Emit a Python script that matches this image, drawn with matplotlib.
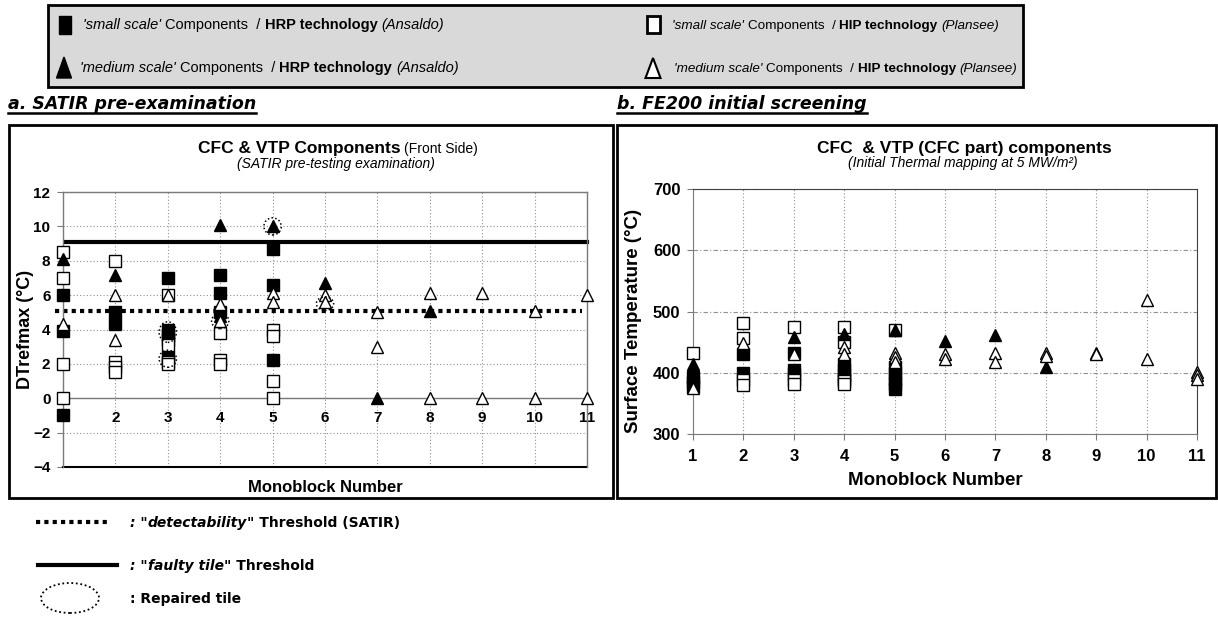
import matplotlib
matplotlib.use('Agg')
import matplotlib.pyplot as plt
from matplotlib.patches import Rectangle, Ellipse, Polygon
from matplotlib.lines import Line2D

plt.rcParams['font.family'] = ['Liberation Sans', 'DejaVu Sans']

# ---- a. SATIR pre-examination : DTrefmax (°C) per monoblock ----
a_sq_hrp_x = [1, 1, 1, 2, 2, 3, 3, 3, 3, 3, 4, 4, 4, 5, 5, 5]
a_sq_hrp_y = [6.0, 3.9, -1.0, 5.0, 4.3, 7.0, 4.0, 3.7, 3.4, 2.4, 7.2, 6.1, 5.0, 8.7, 6.6, 2.2]
a_sq_hip_x = [1, 1, 1, 1, 2, 2, 2, 2, 3, 3, 3, 3, 4, 4, 4, 5, 5, 5, 5]
a_sq_hip_y = [8.5, 7.0, 2.0, 0.0, 8.0, 2.1, 1.8, 1.5, 6.0, 3.1, 2.1, 2.0, 3.8, 2.2, 2.0, 4.0, 3.6, 1.0, 0.0]
a_tri_hrp_x = [1, 2, 4, 4, 5, 6, 7, 8]
a_tri_hrp_y = [8.1, 7.2, 10.1, 4.8, 10.0, 6.7, 0.0, 5.1]
a_tri_hip_x = [1, 2, 2, 3, 4, 4, 5, 5, 6, 6, 7, 7, 8, 8, 9, 9, 10, 10, 11, 11]
a_tri_hip_y = [4.3, 6.0, 3.4, 6.0, 5.5, 4.5, 6.1, 5.6, 6.0, 5.6, 5.0, 3.0, 6.1, 0.0, 6.1, 0.0, 5.1, 0.0, 6.0, 0.0]
# repaired tiles (dotted ellipses)
rep_x = [3, 3, 4, 5, 6]
rep_y = [3.85, 2.3, 4.5, 10.0, 5.5]
rep_h = [1.2, 1.0, 0.9, 1.0, 0.8]
detect_thr = 5.1
faulty_thr = 9.1

# ---- b. FE200 initial screening : surface temperature (°C) ----
b_sq_hrp_x = [1, 1, 1, 2, 2, 3, 3, 3, 4, 4, 4, 4, 5, 5, 5, 5, 5]
b_sq_hrp_y = [393, 385, 377, 430, 400, 432, 405, 398, 415, 405, 397, 390, 410, 400, 390, 382, 374]
b_sq_hip_x = [1, 2, 2, 2, 2, 3, 3, 3, 4, 4, 4, 4, 5]
b_sq_hip_y = [432, 481, 456, 388, 380, 474, 388, 382, 474, 450, 386, 381, 470]
b_tri_hrp_x = [1, 2, 3, 4, 5, 6, 7, 8]
b_tri_hrp_y = [415, 436, 458, 463, 470, 452, 461, 409]
b_tri_hip_x = [1, 2, 3, 4, 4, 5, 5, 5, 6, 6, 7, 7, 8, 8, 9, 9, 10, 10, 11, 11, 11]
b_tri_hip_y = [375, 448, 430, 442, 431, 432, 425, 418, 430, 423, 433, 417, 433, 428, 433, 430, 518, 423, 402, 396, 390]

monoblocks = list(range(1, 12))

W, H = 1218, 630
fig = plt.figure(figsize=(W / 100, H / 100), dpi=100)
rend = fig.canvas.get_renderer()


def fx(px):
    return px / W


def fy(py):
    return 1 - py / H


def text_w(s, **kw):
    t = fig.text(0, 0, '|' + s + '|', **kw)
    t2 = fig.text(0, 0, '||', **kw)
    w = t.get_window_extent(rend).width - t2.get_window_extent(rend).width
    t.remove()
    t2.remove()
    return w


def rich(x, y, parts, ha='left'):
    # parts: list of (string, text kwargs); y is the baseline in pixels
    widths = [text_w(s, **kw) for s, kw in parts]
    if ha == 'center':
        x -= sum(widths) / 2
    x0 = x
    for (s, kw), w in zip(parts, widths):
        lead = len(s) - len(s.lstrip())
        off = text_w(' ' * lead, **kw) if lead else 0
        if s.strip():
            fig.text(fx(x + off), fy(y), s.strip(), va='baseline', ha='left', **kw)
        x += w
    return x0, x


def fig_line(xs, ys, **kw):
    fig.add_artist(Line2D([fx(v) for v in xs], [fy(v) for v in ys], transform=fig.transFigure, **kw))


def fig_rect(x0, y0, x1, y1, **kw):
    fig.add_artist(Rectangle((fx(x0), fy(y1)), (x1 - x0) / W, (y1 - y0) / H,
                             transform=fig.transFigure, **kw))


def fig_tri(cx, top, bot, half, **kw):
    pts = [(fx(cx), fy(top)), (fx(cx - half), fy(bot)), (fx(cx + half), fy(bot))]
    fig.add_artist(Polygon(pts, closed=True, transform=fig.transFigure, **kw))


# ---- top legend box ----
fig_rect(48, 5, 1023, 87, facecolor='#d9d9d9', edgecolor='black', lw=2, zorder=0)
fig_rect(59, 16, 71, 34, facecolor='black', edgecolor='black', lw=1)
fig_tri(64, 57, 78, 7.5, facecolor='black', edgecolor='black', lw=1)
fig_rect(647, 16, 660, 33, facecolor='white', edgecolor='black', lw=2)
fig_tri(653, 58, 78, 7.5, facecolor='white', edgecolor='black', lw=1.5)

it = dict(fontsize=10.5, style='italic')
nm = dict(fontsize=10.5)
bd = dict(fontsize=10.5, weight='bold')
rich(83, 29, [("'small scale'", it), (" Components  / ", nm), ("HRP technology", bd), (" (Ansaldo)", it)])
rich(80, 72, [("'medium scale'", it), (" Components  / ", nm), ("HRP technology", bd), (" (Ansaldo)", it)])
it2 = dict(fontsize=9.7, style='italic')
nm2 = dict(fontsize=9.7)
bd2 = dict(fontsize=9.7, weight='bold')
rich(672, 29, [("'small scale'", it2), (" Components  / ", nm2), ("HIP technology", bd2), (" (Plansee)", it2)])
rich(674, 72, [("'medium scale'", it2), (" Components  / ", nm2), ("HIP technology", bd2), (" (Plansee)", it2)])

# ---- panel titles (underlined) ----
pt = dict(fontsize=12.5, weight='bold', style='italic', family='DejaVu Sans')
for x0, label in [(8, 'a. SATIR pre-examination'), (617, 'b. FE200 initial screening')]:
    a, b = rich(x0, 109, [(label, pt)])
    fig_line([a, b], [113, 113], color='black', lw=1.8)

# ---- panel frames ----
fig_rect(9, 125, 613, 498, facecolor='none', edgecolor='black', lw=2)
fig_rect(617, 125, 1216, 498, facecolor='none', edgecolor='black', lw=2)

# ---- chart titles ----
rich(338, 153, [("CFC & VTP Components", dict(fontsize=12.5, weight='bold')),
                (" (Front Side)", dict(fontsize=10))], ha='center')
rich(336, 168, [("(SATIR pre-testing examination)", dict(fontsize=10, style='italic'))], ha='center')
rich(964, 153, [("CFC  & VTP (CFC part) components", dict(fontsize=12.5, weight='bold'))], ha='center')
rich(963, 167, [("(Initial Thermal mapping at 5 MW/m²)", dict(fontsize=10, style='italic'))], ha='center')

MS = 8


def draw_series(ax, sqf, sqo, trf, tro):
    ax.plot(*sqf, ls='none', marker='s', ms=MS, mfc='black', mec='black', mew=1, clip_on=False, zorder=3)
    ax.plot(*sqo, ls='none', marker='s', ms=MS, mfc='white', mec='black', mew=1, clip_on=False, zorder=3)
    ax.plot(*trf, ls='none', marker='^', ms=MS + 1, mfc='black', mec='black', mew=1, clip_on=False, zorder=3)
    ax.plot(*tro, ls='none', marker='^', ms=MS + 1, mfc='white', mec='black', mew=1, clip_on=False, zorder=3)


# ---- left chart ----
ax1 = fig.add_axes([fx(63), fy(467), 524 / W, 275 / H])
ax1.set_xlim(1, 11)
ax1.set_ylim(-4, 12)
ax1.set_axisbelow(True)
ax1.grid(True, ls=(0, (1, 2)), color='#909090', lw=0.8)
ax1.set_xticks(monoblocks)
ax1.set_yticks(range(-4, 13, 2))
ax1.spines['bottom'].set_position(('data', 0))
for s in ['bottom', 'left', 'top', 'right']:
    ax1.spines[s].set_color('#7a7a7a')
    ax1.spines[s].set_linewidth(1)
ax1.axhline(-4, color='black', lw=1.5, zorder=2, clip_on=False)
ax1.tick_params(axis='x', length=0, pad=9, labelsize=11)
ax1.tick_params(axis='y', length=4, color='#7a7a7a', pad=5, labelsize=11)
for lab in ax1.get_xticklabels() + ax1.get_yticklabels():
    lab.set_fontweight('bold')
ax1.plot([1.05, 11], [faulty_thr, faulty_thr], color='black', lw=3, zorder=2, clip_on=False)
ax1.plot([0.85, 10.9], [detect_thr, detect_thr], color='black', lw=3, ls=(0, (1, 1)),
         dash_capstyle='butt', zorder=2, clip_on=False)
draw_series(ax1, (a_sq_hrp_x, a_sq_hrp_y), (a_sq_hip_x, a_sq_hip_y),
            (a_tri_hrp_x, a_tri_hrp_y), (a_tri_hip_x, a_tri_hip_y))
for x, y, h in zip(rep_x, rep_y, rep_h):
    ax1.add_patch(Ellipse((x, y), 0.33, h, fill=False, ls=(0, (1, 1.5)), lw=1.1,
                          edgecolor='black', zorder=4, clip_on=False))
ax1.text(0.5, -0.073, 'Monoblock Number', transform=ax1.transAxes, ha='center', va='center',
         fontsize=12, weight='bold')
ax1.text(-0.0725, 0.5, 'DTrefmax (°C)', transform=ax1.transAxes, ha='center', va='center',
         rotation=90, fontsize=13, weight='bold')

# ---- right chart ----
ax2 = fig.add_axes([fx(693), fy(434), 504 / W, 245 / H])
ax2.set_xlim(1, 11)
ax2.set_ylim(300, 700)
ax2.set_axisbelow(True)
ax2.xaxis.grid(True, ls=(0, (1, 2)), color='#909090', lw=0.8)
ax2.yaxis.grid(True, ls=(0, (4, 2, 1, 2)), color='#909090', lw=0.8)
ax2.set_xticks(monoblocks)
ax2.set_yticks(range(300, 701, 100))
for s in ['bottom', 'left']:
    ax2.spines[s].set_color('#7a7a7a')
for s in ['top', 'right']:
    ax2.spines[s].set_color('#404040')
ax2.tick_params(axis='x', length=4, color='#7a7a7a', pad=7, labelsize=12)
ax2.tick_params(axis='y', length=4, color='#7a7a7a', pad=5, labelsize=12)
for lab in ax2.get_xticklabels() + ax2.get_yticklabels():
    lab.set_fontweight('bold')
draw_series(ax2, (b_sq_hrp_x, b_sq_hrp_y), (b_sq_hip_x, b_sq_hip_y),
            (b_tri_hrp_x, b_tri_hrp_y), (b_tri_hip_x, b_tri_hip_y))
ax2.text(0.48, -0.188, 'Monoblock Number', transform=ax2.transAxes, ha='center', va='center',
         fontsize=13.5, weight='bold')
ax2.text(-0.118, 0.46, 'Surface Temperature (°C)', transform=ax2.transAxes, ha='center', va='center',
         rotation=90, fontsize=13.5, weight='bold')

# ---- bottom legend ----
lg = dict(fontsize=10, weight='bold', family='DejaVu Sans')
lgi = dict(fontsize=10, weight='bold', style='italic', family='DejaVu Sans')
fig_line([36, 107], [522, 522], color='black', lw=3, ls=(0, (1, 1)), dash_capstyle='butt')
rich(130, 527, [(': "', lgi), ('detectability', lgi), ('" Threshold (SATIR)', lg)])
fig_line([38, 117], [565, 565], color='black', lw=3)
rich(130, 570, [(': "', lgi), ('faulty tile', lgi), ('" Threshold', lg)])
fig.add_artist(Ellipse((fx(70), fy(598)), 58 / W, 30 / H, transform=fig.transFigure, fill=False,
                       ls=(0, (1, 1.5)), lw=1.3, edgecolor='black'))
rich(130, 603, [(': Repaired tile', lg)])

fig.savefig('out.png', dpi=100)
